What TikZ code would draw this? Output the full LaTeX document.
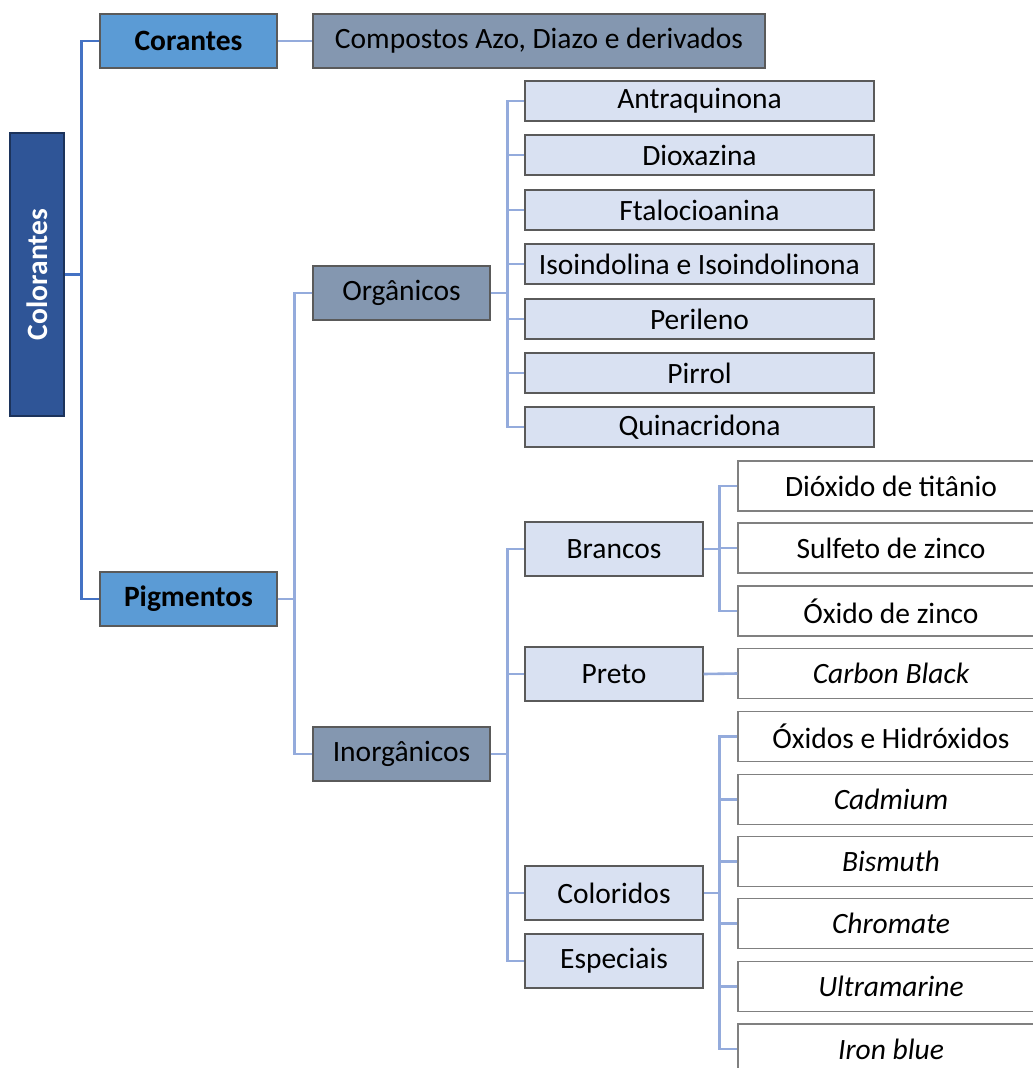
\documentclass[tikz,border=0pt]{standalone}
\usepackage{fontspec}
\setmainfont{Carlito}
\usepackage{xcolor}
\usepackage{tikz}
\definecolor{rootblue}{HTML}{2F5597}
\definecolor{midblue}{HTML}{5B9BD5}
\definecolor{slate}{HTML}{8497B0}
\definecolor{paleblue}{HTML}{D9E1F2}
\definecolor{trunkblue}{HTML}{4472C4}
\definecolor{linkblue}{HTML}{94ABDC}
\definecolor{boxline}{HTML}{5A5A5A}

\begin{document}
\begin{tikzpicture}[x=1pt,y=-1pt,font=\fontsize{29.5}{34}\selectfont,
    box/.style={draw=boxline,line width=1.2pt,inner sep=0pt},
    topbox/.style={box,fill=midblue,minimum width=177,minimum height=54,font=\fontsize{29.5}{34}\selectfont\bfseries},
    greybox/.style={box,fill=slate,minimum height=54},
    leafbox/.style={box,fill=paleblue,minimum width=349,minimum height=40},
    subbox/.style={box,fill=paleblue,minimum width=178,minimum height=54},
    endbox/.style={box,draw=gray,fill=white,minimum width=306,minimum height=50},
    trunk/.style={draw=trunkblue,line width=2.8pt},
    branch/.style={draw=linkblue,line width=2.6pt}]
    \useasboundingbox (0,0) rectangle (1033,1068);
    \clip (0,0) rectangle (1033,1068);
    % left part
    \node[box,fill=rootblue,draw=rootblue!60!black,rotate=90,minimum width=283,minimum height=54,text=white,font=\fontsize{29.5}{34}\selectfont\bfseries] (colr) at (37,274.5) {Colorantes};
    \node[topbox] (cor) at (188.5,41) {Corantes};
    \node[topbox] (pig) at (188.5,599) {Pigmentos};
    \node[greybox,minimum width=452] (azo) at (539,41) {Compostos Azo, Diazo e derivados};
    \node[greybox,minimum width=177] (org) at (401.5,293) {Orgânicos};
    \node[greybox,minimum width=177] (inorg) at (401.5,754) {Inorgânicos};
    % organicos
    \node[leafbox] (antr) at (699.5,101) {Antraquinona};
    \node[leafbox] (diox) at (699.5,155) {Dioxazina};
    \node[leafbox] (ftal) at (699.5,210) {Ftalocioanina};
    \node[leafbox] (isoi) at (699.5,264) {Isoindolina e Isoindolinona};
    \node[leafbox] (peri) at (699.5,319) {Perileno};
    \node[leafbox] (pirr) at (699.5,373) {Pirrol};
    \node[leafbox] (quin) at (699.5,427) {Quinacridona};
    % inorganicos
    \node[subbox] (bran) at (614,549) {Brancos};
    \node[subbox] (pret) at (614,674) {Preto};
    \node[subbox] (colo) at (614,893) {Coloridos};
    \node[subbox] (espe) at (614,961) {Especiais};
    \node[endbox] (dioxi) at (891,486) {Dióxido de titânio};
    \node[endbox] (sulf) at (891,548) {Sulfeto de zinco};
    \node[endbox] (oxzn) at (891,611) {Óxido de zinco};
    \node[endbox] (carb) at (891,673.5) {\itshape Carbon Black};
    \node[endbox] (oxhid) at (891,736.5) {Óxidos e Hidróxidos};
    \node[endbox] (cadm) at (891,799.5) {\itshape Cadmium};
    \node[endbox] (bism) at (891,861.5) {\itshape Bismuth};
    \node[endbox] (chrom) at (891,923.5) {\itshape Chromate};
    \node[endbox] (ultra) at (891,986.5) {\itshape Ultramarine};
    \node[endbox] (iron) at (891,1049) {\itshape Iron blue};
    % connectors
    \draw[trunk] (colr.south) -- ++(18,0);
    \draw[trunk] (cor.west) -- ++(-18,0) |- (pig.west);
    \draw[branch] (cor.east) -- (azo.west);
    \draw[branch] (pig.east) -- ++(18,0);
    \draw[branch] (org.west) -- ++(-18,0) |- (inorg.west);
    \draw[branch] (org.east) -- ++(18,0);
    \draw[branch] (antr.west) -- ++(-17,0) |- (quin.west);
    \foreach \n in {diox,ftal,isoi,peri,pirr}
      \draw[branch] (\n.west) -- ++(-17,0);
    \draw[branch] (inorg.east) -- ++(18,0);
    \draw[branch] (bran.west) -- ++(-17,0) |- (espe.west);
    \foreach \n in {pret,colo}
      \draw[branch] (\n.west) -- ++(-17,0);
    \draw[branch] (bran.east) -- ++(17,0);
    \draw[branch] (dioxi.west) -- ++(-18,0) |- (oxzn.west);
    \draw[branch] (sulf.west) -- ++(-18,0);
    \draw[branch] (pret.east) -- (carb.west);
    \draw[branch] (colo.east) -- ++(17,0);
    \draw[branch] (oxhid.west) -- ++(-18,0) |- (iron.west);
    \foreach \n in {cadm,bism,chrom,ultra}
      \draw[branch] (\n.west) -- ++(-18,0);
\end{tikzpicture}
\end{document}
